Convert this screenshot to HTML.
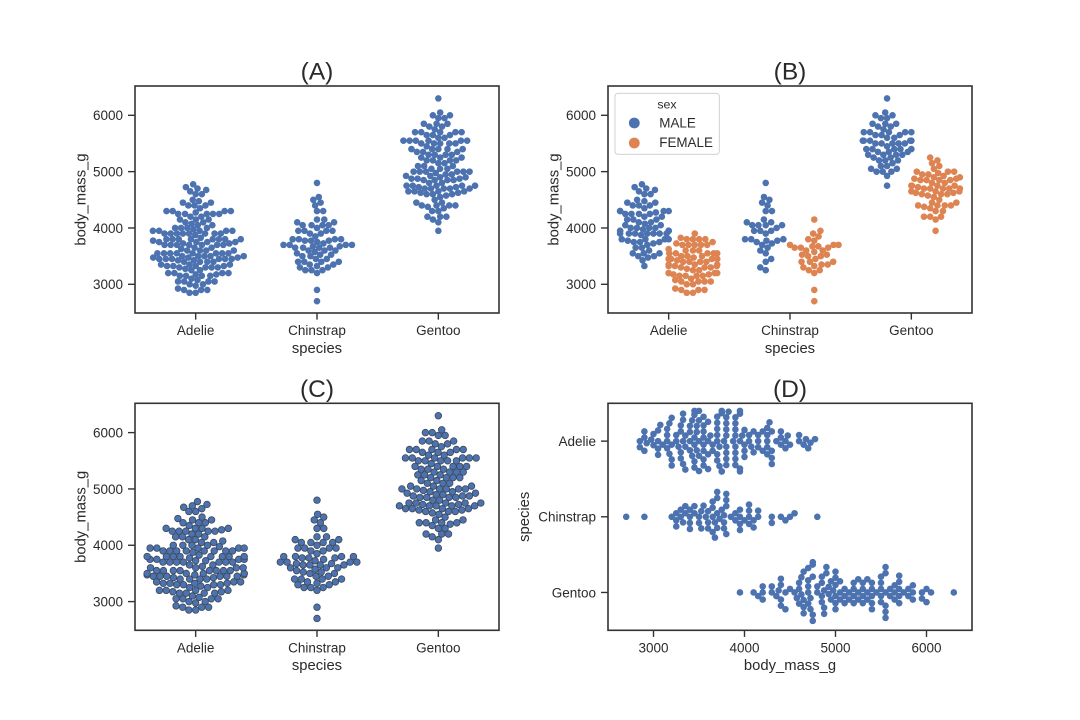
<!DOCTYPE html>
<html lang="en">
<head>
<meta charset="utf-8">
<title>Penguin body mass swarm plots</title>
<style>
html,body{margin:0;padding:0;background:#fff;width:1080px;height:720px;overflow:hidden}
svg{display:block;font-family:"Liberation Sans",Arial,sans-serif}
text{fill:#2a2a2a}
</style>
</head>
<body>
<svg id="chart" xmlns="http://www.w3.org/2000/svg" width="1080" height="720" viewBox="0 0 1080 720"></svg>
<script>
const speciesNames = ['Adelie', 'Chinstrap', 'Gentoo'];
const massTicks = [3000, 4000, 5000, 6000];
const massRange = [2500, 6500];
const adelieMale = [3750,3650,4675,3800,4400,4500,4200,3600,3950,3800,3550,3950,3900,3900,4150,3950,4650,3900,4400,4600,3425,4150,4300,4050,3700,3800,3750,4400,4050,3950,4100,4450,3900,4150,4250,3900,4000,4700,4200,3550,3800,3950,4300,4450,4300,4350,4100,4725,4250,3550,3900,4775,4600,4275,4075,3775,3325,3500,3875,4000,4300,4000,3500,4475,3900,3975,4250,3475,3725,3650,4250,3750,4000];
const adelieFemale = [3800,3250,3450,3625,3200,3700,3450,3325,3400,3800,3800,3200,3150,3250,3300,3325,3550,3300,3150,3100,3000,3450,3500,3450,2900,3550,2850,3150,3600,2850,3350,3050,3600,3550,3700,3700,3550,3200,3800,3350,3500,3600,3550,3400,3300,3700,2900,3725,3075,2925,3750,3175,3825,3200,3900,2900,3350,3150,3450,3050,3275,3050,3325,3500,3425,3175,3400,3400,3050,3000,3475,3450,3700];
const adelieUnknown = [3475,4250,3300,3700,2975];
const chinstrapMale = [3900,3650,3725,3750,3700,3775,4050,4050,3300,4400,3400,3800,4150,3800,4550,4300,4100,3600,4800,4500,3950,3550,4450,4300,3250,3950,4050,3450,4050,3800,3950,4000,3775,4100];
const chinstrapFemale = [3500,3525,3950,3250,4150,3800,3700,3575,3700,3450,3600,2900,3300,3400,3700,3200,3350,3900,3850,2700,3650,3500,3675,3400,3675,3325,3600,3350,3250,3525,3650,3650,3400,3775];
const chinstrapUnknown = [];
const gentooMale = [5700,5700,5400,5200,5150,5550,5850,5850,6300,5350,5700,5050,5100,5650,5550,6050,5400,5250,5350,5700,4750,5550,5400,5300,5300,5000,5050,5000,5550,5300,5650,5700,5800,5550,5000,5200,5800,6000,5950,5450,5350,5600,5300,5550,5400,5650,5200,5250,5600,5500,5500,5500,5500,5950,5500,5850,6000,5750,5400,4925,5100];
const gentooFemale = [4500,4450,4550,4800,4400,4650,4650,4200,4150,4800,5000,4400,5000,4600,5250,4700,5050,5150,4950,4350,3950,4300,4900,4200,5100,4850,4400,4900,4300,4450,4200,4400,4700,4700,4750,4700,4600,4750,4625,4725,4750,4600,4875,4950,4750,4850,4925,4875,4625,4850,4975,4700,4575,5000,4650,4375,4850,5200];
const gentooUnknown = [4100,4650,4725,4875];

const maleBySpecies = [adelieMale, chinstrapMale, gentooMale];
const femaleBySpecies = [adelieFemale, chinstrapFemale, gentooFemale];
const unknownBySpecies = [adelieUnknown, chinstrapUnknown, gentooUnknown];

const BLUE = '#4c72b0', ORANGE = '#dd8452', INK = '#333333';
const V_CROSS_K = 1.044, V_MASS_K = 1.044, H_CROSS_K = 1.06, H_MASS_K = 1.1;
const svg = document.getElementById('chart');
const NS = 'http://www.w3.org/2000/svg';

function svgEl(tag, attrs, parent, txt) {
  const el = document.createElementNS(NS, tag);
  for (const k in attrs) el.setAttribute(k, attrs[k]);
  if (txt !== undefined) el.textContent = txt;
  (parent || svg).appendChild(el);
  return el;
}

function beeswarm(values, pos, d) {
  const sorted = values.slice().sort((a, b) => a - b);
  const placed = [];
  let nNeg = 0, nPos = 0;
  for (const v of sorted) {
    const y = pos(v);
    const neighbors = [];
    for (let j = placed.length - 1; j >= 0; j--) {
      if (y - placed[j].y < d) neighbors.unshift(placed[j]); else break;
    }
    const cands = [0];
    let leftFirst = true;
    for (const n of neighbors) {
      const dy = y - n.y;
      const dx = Math.sqrt(Math.max(d * d - dy * dy, 0)) * 1.05;
      if (leftFirst) cands.push(n.x - dx, n.x + dx); else cands.push(n.x + dx, n.x - dx);
      leftFirst = !leftFirst;
    }
    const preferNeg = nNeg <= nPos;
    const order = cands.map((c, i) => [Math.abs(c), i, c]).sort((a, b) => {
      if (Math.abs(a[0] - b[0]) > 1e-6) return a[0] - b[0];
      if (a[2] * b[2] < 0) return preferNeg ? a[2] - b[2] : b[2] - a[2];
      return a[1] - b[1];
    });
    let x = 0;
    for (const o of order) {
      const ok = neighbors.every(n => (n.x - o[2]) ** 2 + (n.y - y) ** 2 >= d * d - 1e-9);
      if (ok) { x = o[2]; break; }
    }
    if (x < 0) nNeg++; else if (x > 0) nPos++;
    placed.push({ x, y, v });
  }
  return placed;
}

function makeAxes(letter, left, top, horizontal) {
  const w = 364, h = 227;
  const g = svgEl('g', {});
  
  
  const massAxis = horizontal
    ? v => left + (v - massRange[0]) / (massRange[1] - massRange[0]) * w
    : v => top + h - 0.5 - (v - 3000) * 0.05633 - 28.2;
  const catLen = horizontal ? h : w;
  const catAxis = i => (horizontal ? top : left) + (i + 0.5) / 3 * catLen;
  return { letter, left, top, w, h, g, massAxis, catAxis, catStep: catLen / 3, horizontal };
}

function drawFrame(ax) {
  const { left, top, w, h, g, letter } = ax;
  const frame = svgEl('rect', { x: left, y: top, width: w, height: h, fill: 'none', stroke: INK, 'stroke-width': 1.6 }, g);
  
  
  const title = svgEl('text', { x: left + w / 2, y: top - 6.3, 'text-anchor': 'middle', 'font-size': 24.5 }, g, '(' + letter + ')');
  
  
  const bottom = top + h;
  const xLabelValues = ax.horizontal ? massTicks : speciesNames;
  xLabelValues.forEach((lab, i) => {
    const px = ax.horizontal ? ax.massAxis(lab) : ax.catAxis(i);
    const tick = svgEl('line', { x1: px, x2: px, y1: bottom, y2: bottom + 6.6, stroke: INK, 'stroke-width': 1.4 }, g);
    
    
    const t = svgEl('text', { x: px, y: bottom + 22.2, 'text-anchor': 'middle', 'font-size': 13.5 }, g, lab);
    
    
  });
  const xt = svgEl('text', { x: left + w / 2, y: bottom + 39.8, 'text-anchor': 'middle', 'font-size': 14.8 }, g, ax.horizontal ? 'body_mass_g' : 'species');
  
  
  const yLabelValues = ax.horizontal ? speciesNames : massTicks;
  yLabelValues.forEach((lab, i) => {
    const py = ax.horizontal ? ax.catAxis(i) : ax.massAxis(lab);
    const tick = svgEl('line', { x1: left - 7, x2: left, y1: py, y2: py, stroke: INK, 'stroke-width': 1.4 }, g);
    
    
    const t = svgEl('text', { x: left - 12, y: py + 4.9, 'text-anchor': 'end', 'font-size': 13.5 }, g, lab);
    
    
  });
  const yx = ax.horizontal ? left - 79 : left - 49.5;
  const yy = top + h / 2;
  const yt = svgEl('text', { x: yx, y: yy, 'text-anchor': 'middle', 'font-size': 14.8, transform: 'rotate(-90 ' + yx + ' ' + yy + ')' }, g, ax.horizontal ? 'species' : 'body_mass_g');
  
  
}

function drawSwarm(ax, catIndex, values, opt) {
  const center = ax.catAxis(catIndex) + (opt.dodge || 0) * ax.catStep;
  const gutter = opt.gutter * ax.catStep;
  const pos = ax.horizontal
    ? v => ax.massAxis(v) * H_MASS_K
    : v => (ax.top + ax.h - ax.massAxis(v)) * V_MASS_K;
  const crossK = ax.horizontal ? H_CROSS_K : V_CROSS_K;
  const placed = beeswarm(values, pos, opt.d);
  placed.forEach(p => {
    const off = Math.max(-gutter, Math.min(gutter, p.x / crossK));
    const cx = ax.horizontal ? ax.massAxis(p.v) : center + off;
    const cy = ax.horizontal ? center - off : ax.massAxis(p.v);
    const c = svgEl('circle', { cx, cy, r: opt.r, fill: opt.color }, ax.g);
    if (opt.edge) { c.setAttribute('stroke', opt.edge); c.setAttribute('stroke-width', opt.edgeWidth); }
    
    
  });
}

function allFor(i) { return maleBySpecies[i].concat(femaleBySpecies[i], unknownBySpecies[i]); }

const axA = makeAxes('A', 135, 86, false);
const axB = makeAxes('B', 608, 86, false);
const axC = makeAxes('C', 135, 403.3, false);
const axD = makeAxes('D', 608, 403.3, true);

speciesNames.forEach((_, i) => {
  drawSwarm(axA, i, allFor(i), { d: 6.16, r: 3.3, color: BLUE, gutter: 0.4 });
  drawSwarm(axB, i, maleBySpecies[i], { d: 6.16, r: 3.3, color: BLUE, gutter: 0.2, dodge: -0.2 });
  drawSwarm(axB, i, femaleBySpecies[i], { d: 6.16, r: 3.3, color: ORANGE, gutter: 0.2, dodge: 0.2 });
  drawSwarm(axC, i, allFor(i), { d: 6.77, r: 3.3, color: BLUE, edge: '#3d4a5c', edgeWidth: 0.8, gutter: 0.4 });
  drawSwarm(axD, i, allFor(i), { d: 6.16, r: 3.3, color: BLUE, gutter: 0.4 });
});
[axA, axB, axC, axD].forEach(drawFrame);

const legend = svgEl('g', {}, axB.g);


const legendBox = svgEl('rect', { x: 615, y: 93.3, width: 104.3, height: 61, rx: 3, fill: '#fff', 'fill-opacity': 0.85, stroke: '#cccccc', 'stroke-width': 0.9 }, legend);


const legendTitle = svgEl('text', { x: 667, y: 108.3, 'text-anchor': 'middle', 'font-size': 12.4 }, legend, 'sex');


const legendM = svgEl('circle', { cx: 634.3, cy: 123, r: 5.4, fill: BLUE }, legend);


const legendMT = svgEl('text', { x: 659.3, y: 127.3, 'font-size': 13.4 }, legend, 'MALE');


const legendF = svgEl('circle', { cx: 634.3, cy: 143, r: 5.4, fill: ORANGE }, legend);


const legendFT = svgEl('text', { x: 659.3, y: 147, 'font-size': 13.4 }, legend, 'FEMALE');


</script>
</body>
</html>
